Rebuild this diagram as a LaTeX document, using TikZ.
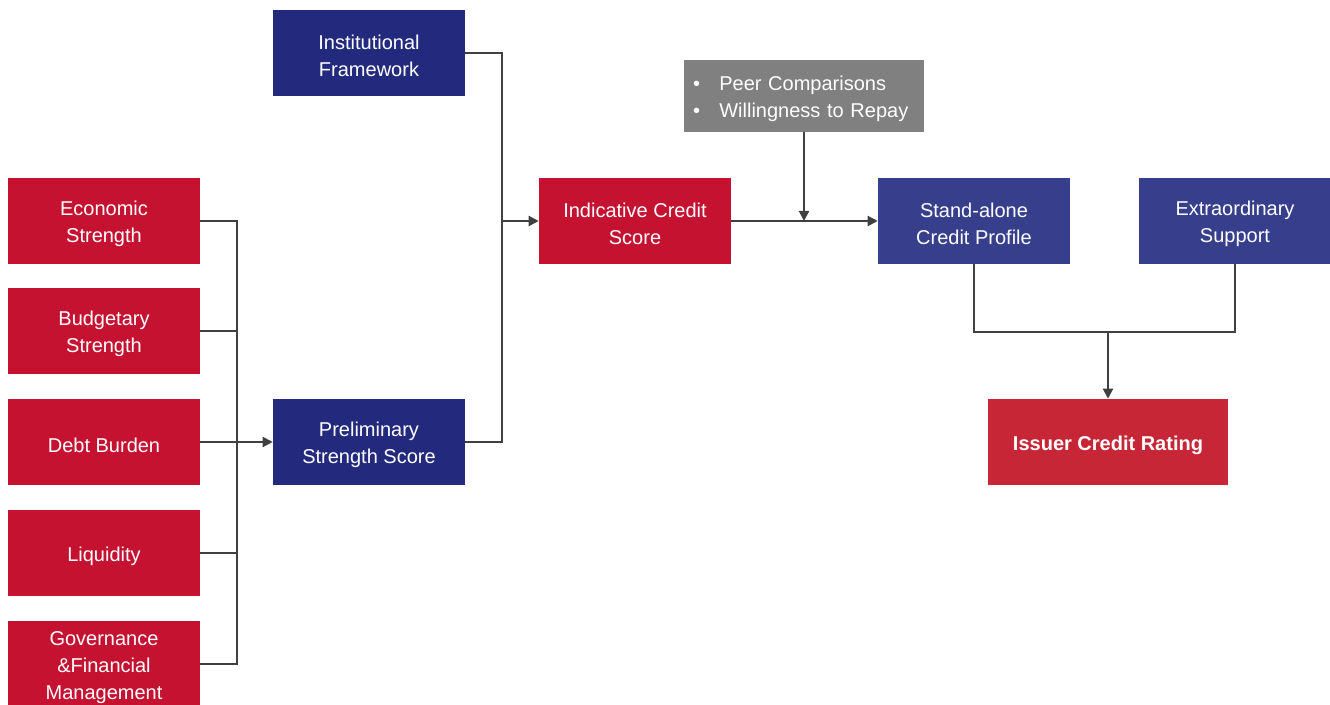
\documentclass[tikz,border=0pt]{standalone}
\usepackage{fontspec}
\setmainfont{Liberation Sans}
\usetikzlibrary{arrows.meta}

\definecolor{rbox}{HTML}{C41230}
\definecolor{nbox}{HTML}{232A7E}
\definecolor{bbox}{HTML}{373F8C}
\definecolor{ibox}{HTML}{C62636}
\definecolor{gbox}{HTML}{808080}
\definecolor{wire}{HTML}{404040}
\newcommand{\lift}{\rule{0pt}{15.3pt}}

\begin{document}
\begin{tikzpicture}
      [
        x=0.75pt, y=-0.75pt,
        box/.style={minimum width=192*0.75pt, minimum height=86*0.75pt,
          inner sep=0pt, text=white, align=center,
          font=\fontsize{15}{20.25}\selectfont},
        factor/.style={box, fill=rbox},
        inner/.style={box, fill=nbox},
        outer/.style={box, fill=bbox},
        wireline/.style={draw=wire, line width=1.5pt},
        wirearrow/.style={wireline, -{Triangle[length=7.5pt,width=7.5pt]}}
      ]
      \useasboundingbox (0,0) rectangle (1330,705);
      % factors
      \node [factor] (econ) at (104,221) {\lift Economic\\Strength};
      \node [factor] (budget) at (104,331) {\lift Budgetary\\Strength};
      \node [factor] (debt) at (104,442) {\lift Debt Burden};
      \node [factor] (liq) at (104,553) {\lift Liquidity};
      \node [factor] (gov) at (104,664) {\lift Governance\\\&Financial\\Management};
      % scores
      \node [inner] (inst) at (369,53) {\lift Institutional\\Framework};
      \node [inner] (prelim) at (369,442) {\lift Preliminary\\Strength Score};
      \node [factor] (ind) at (635,221) {\lift Indicative Credit\\Score};
      \node [box, fill=gbox, minimum width=240*0.75pt, minimum height=72*0.75pt,
        text width=222*0.75pt, align=left, inner xsep=9*0.75pt] (peer) at (804,96)
        {\lift\textbullet\hspace{14.5pt}Peer Comparisons\\\textbullet\hspace{14.5pt}Willingness to Repay};
      \node [outer] (stand) at (974,221) {\lift Stand-alone\\Credit Profile};
      \node [outer] (extra) at (1235,221) {\lift Extraordinary\\Support};
      \node [box, fill=ibox, minimum width=240*0.75pt, font=\fontsize{15}{20.25}\selectfont\bfseries]
        (issuer) at (1108,442) {\lift Issuer Credit Rating};
      % joins
      \coordinate (jl) at (237,442);
      \coordinate (jm) at (502,221);
      \coordinate (jr) at (1108,332);
      % edges
      \draw [wireline] (econ.east) -| (jl);
      \draw [wireline] (gov.east) -| (jl);
      \draw [wireline] (budget.east) -- (budget.east -| jl);
      \draw [wireline] (liq.east) -- (liq.east -| jl);
      \draw [wirearrow] (debt.east) -- (prelim.west);
      \draw [wireline] (inst.east) -| (jm);
      \draw [wireline] (prelim.east) -| (jm);
      \draw [wirearrow] (jm) -- (ind.west);
      \draw [wirearrow] (ind.east) -- (stand.west);
      \draw [wirearrow] (peer.south) -- (peer.south |- stand.west);
      \draw [wireline] (stand.south) |- (jr);
      \draw [wireline] (extra.south) |- (jr);
      \draw [wirearrow] (jr) -- (issuer.north);
    \end{tikzpicture}
\end{document}
